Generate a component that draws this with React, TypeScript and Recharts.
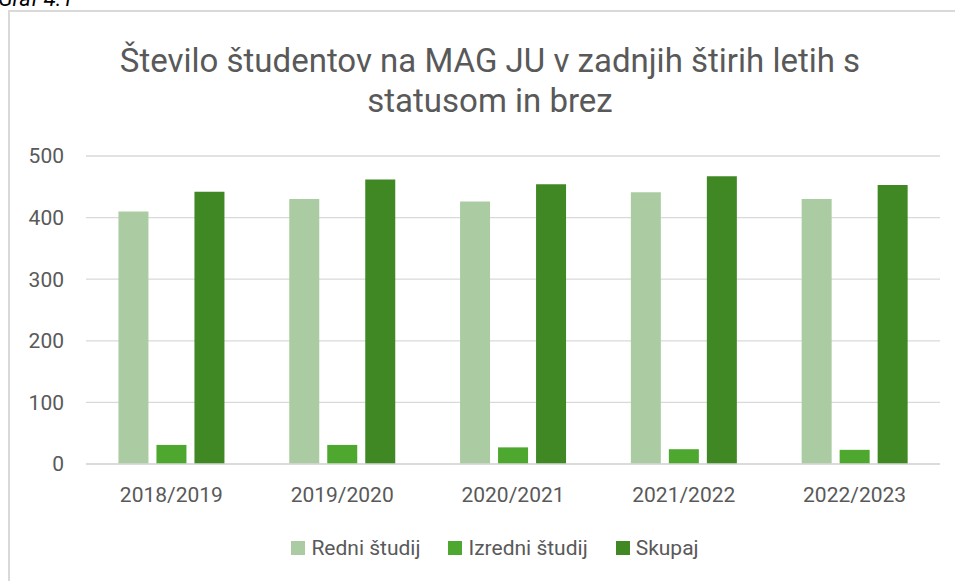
import { BarChart, Bar, XAxis, YAxis, CartesianGrid } from "recharts";

const years = ["2018/2019", "2019/2020", "2020/2021", "2021/2022", "2022/2023"];
const redni = [410, 430, 426, 441, 430];
const izredni = [31, 31, 27, 24, 23];
const skupaj = [442, 462, 454, 467, 453];
const yTicks = [0, 100, 200, 300, 400, 500];

const seriesNames = ["Redni študij", "Izredni študij", "Skupaj"];
const seriesColors = ["#abcca2", "#4ea72e", "#3f8824"];

const data = years.map((y, i) => ({ year: y, redni: redni[i], izredni: izredni[i], skupaj: skupaj[i] }));

const font = "Roboto, 'Liberation Sans', sans-serif";
const textColor = "#595959";

function LegendBox() {
  return (
    <div style={{ position: "absolute", left: 0, width: 990, top: 536, display: "flex", justifyContent: "center", alignItems: "center", fontFamily: font, fontSize: 21, color: textColor }}>
      {seriesNames.map((n, i) => (
        <div key={n} style={{ display: "flex", alignItems: "center", marginRight: i < 2 ? 28 : 0 }}>
          <span style={{ width: 14, height: 14, background: seriesColors[i], marginRight: 6, display: "inline-block" }} />
          <span>{n}</span>
        </div>
      ))}
    </div>
  );
}

export default function App() {
  return (
    <div style={{ position: "absolute", left: 0, top: 0, width: 955, height: 581, overflow: "hidden", background: "#fff" }}>
      <div style={{ position: "absolute", left: -2, top: -14, fontFamily: font, fontStyle: "italic", fontSize: 22, color: "#000" }}>Graf 4.1</div>
      <div style={{ position: "absolute", left: 8, top: 10, width: 1000, height: 600, borderLeft: "2px solid #d9d9d9", borderTop: "2px solid #d9d9d9" }} />
      <div style={{ position: "absolute", left: 40, width: 900, top: 41, textAlign: "center", fontFamily: font, fontSize: 33, lineHeight: "40px", color: textColor }}>
        Število študentov na MAG JU v zadnjih štirih letih s<br />statusom in brez
      </div>
      <BarChart
        width={955}
        height={581}
        data={data}
        margin={{ top: 156, right: 15, left: 26, bottom: 87 }}
        barCategoryGap="19%"
        barGap={8}
        style={{ position: "absolute", left: 0, top: 0 }}
      >
        <CartesianGrid vertical={false} stroke="#d9d9d9" strokeWidth={1.3} />
        <XAxis dataKey="year" axisLine={{ stroke: "#d9d9d9", strokeWidth: 1.3 }} tickLine={false} tickSize={0} tickMargin={23} tick={{ fontSize: 21, fill: textColor, fontFamily: font }} interval={0} height={30} />
        <YAxis domain={[0, 500]} ticks={yTicks} width={60} axisLine={false} tickLine={false} tickSize={0} tickMargin={22} tick={{ fontSize: 21, fill: textColor, fontFamily: font }} />
        <Bar dataKey="redni" name={seriesNames[0]} fill={seriesColors[0]} isAnimationActive={false} />
        <Bar dataKey="izredni" name={seriesNames[1]} fill={seriesColors[1]} isAnimationActive={false} />
        <Bar dataKey="skupaj" name={seriesNames[2]} fill={seriesColors[2]} isAnimationActive={false} />
      </BarChart>
      <LegendBox />
    </div>
  );
}
